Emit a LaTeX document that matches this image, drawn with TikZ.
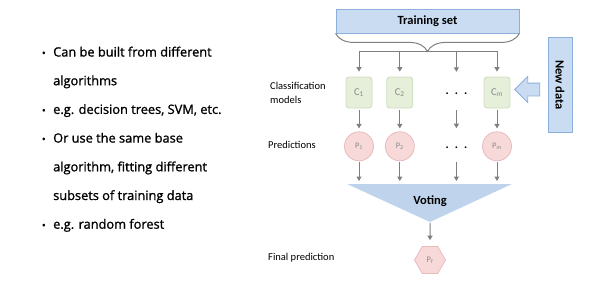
\documentclass[tikz,border=0pt]{standalone}
\usepackage{fontspec}
\setmainfont{Carlito}
\newfontfamily\listfont{Open Sans}[UprightFeatures={FakeBold=1.2}]
\usetikzlibrary{arrows.meta,positioning,shapes.geometric,shapes.arrows,decorations.pathreplacing}

\definecolor{setfill}{HTML}{C9DCF2}
\definecolor{setline}{HTML}{8DB0DA}
\definecolor{modelfill}{HTML}{E6EFDA}
\definecolor{modelline}{HTML}{CEDCBC}
\definecolor{predfill}{HTML}{F7D9D9}
\definecolor{predline}{HTML}{EABBBB}
\definecolor{votefill}{HTML}{BFD4EC}
\definecolor{flowgray}{HTML}{7F7F7F}
\definecolor{namegray}{HTML}{8A8A8A}

\newcommand{\threedots}{\raisebox{-5pt}{.\hspace{6pt}.\hspace{6pt}.}}
\newcommand{\bul}{\llap{{\fontsize{10}{10}\selectfont\textbullet}\hspace{7.5pt}}}

\begin{document}
\begin{tikzpicture}[x=1pt, y=-1pt,
  node distance=23pt and 14pt,
  setbox/.style={draw=setline, fill=setfill, line width=0.8pt, minimum width=183pt, minimum height=24pt, font=\bfseries\fontsize{12.5}{14}\selectfont},
  databox/.style={draw=setline, fill=setfill, line width=0.8pt, minimum width=95pt, minimum height=24pt, inner sep=0pt, rotate=-90, font=\bfseries\fontsize{12.5}{14}\selectfont},
  feed/.style={single arrow, draw=setline, fill=setfill, line width=0.8pt, shape border rotate=180, minimum height=25pt, inner xsep=0pt, inner ysep=6pt, single arrow head extend=6.5pt},
  model/.style={draw=modelline, fill=modelfill, line width=0.8pt, rounded corners=3pt, minimum width=26pt, minimum height=31pt, inner sep=0pt, text=namegray, font=\fontsize{10.5}{10}\selectfont},
  pred/.style={circle, draw=predline, fill=predfill, line width=0.8pt, minimum size=29pt, inner sep=0pt, text=namegray, font=\fontsize{8.5}{8}\selectfont},
  final/.style={regular polygon, regular polygon sides=6, draw=predline, fill=predfill, line width=0.8pt, minimum size=31pt, inner sep=0pt, text=namegray, font=\fontsize{8.5}{8}\selectfont},
  gap/.style={minimum width=26pt, minimum height=29pt, inner sep=0pt, font=\bfseries\fontsize{12}{12}\selectfont},
  rowlabel/.style={anchor=west, align=left, inner sep=0pt, font=\fontsize{10.5}{14}\selectfont},
  arrow/.style={-{Triangle[length=4.5pt, width=5pt]}, draw=flowgray, line width=1pt},
  bus/.style={draw=flowgray, line width=1pt},
  listline/.style={anchor=base west, inner sep=0pt, font=\listfont\fontsize{12.8}{14}\selectfont}
]
\useasboundingbox (0,0) rectangle (597,290);

% bullet list
\foreach \txt [count=\i from 0] in {{\bul Can be built from different}, {algorithms}, {\bul e.g. decision trees, SVM, etc.}, {\bul Or use the same base}, {algorithm, fitting different}, {subsets of training data}, {\bul e.g. random forest}}
  \node[listline] (line\i) at (53, 56.5+28.7*\i) {\txt};

% training set and classifiers
\node[setbox] (train) at (427.5,21) {Training set};
\node[model] (c1) at (359,92.5) {C\textsubscript{1}};
\node[model, right=of c1] (c2) {C\textsubscript{2}};
\node[gap, minimum height=31pt, right=30pt of c2] (cdots) {\threedots};
\node[model, right=of cdots] (cm) {C\textsubscript{\itshape m}};

\node[pred, below=of c1] (p1) {P\textsubscript{1}};
\node[pred, below=of c2] (p2) {P\textsubscript{2}};
\node[gap, below=of cdots] (pdots) {\threedots};
\node[pred, below=of cm] (pm) {P\textsubscript{\itshape m}};

% new data
\node[databox] (newdata) at (560,85) {New data};
\node[feed] (feed) at (530.5,89.5) {};

% row labels
\node[rowlabel] (modelslabel) at (270,93) {Classification\\models};
\node[rowlabel] (predlabel) at (268,145) {Predictions};
\node[rowlabel] (finallabel) at (268,258) {Final prediction};

% split from training set
\draw[bus, decorate, decoration={brace, mirror, amplitude=18pt}] (train.south west) -- (train.south east);
\coordinate (split) at ([yshift=-18pt]train.south);
\draw[bus] (c1 |- split) -- (cm |- split);
\foreach \n in {c1,c2,cdots,cm}
  \draw[arrow, shorten >=5pt] (\n |- split) -- (\n.north);
\foreach \n in {1,2,dots,m}
  \draw[arrow, shorten <=2pt, shorten >=3pt] (c\n) -- (p\n);

% voting
\coordinate (votel) at (347,184);
\coordinate (voter) at (512,184);
\coordinate (apex) at (430,222);
\fill[votefill] (votel) -- (voter) -- (apex) -- cycle;
\node[font=\bfseries\fontsize{12.5}{14}\selectfont] (vote) at (430,201) {Voting};
\foreach \n in {1,2,dots,m}
  \draw[arrow, shorten <=1pt, shorten >=3pt] (p\n) -- (p\n |- votel);

\node[final] (pf) at (430,260) {P\textsubscript{f}};
\draw[arrow, shorten <=1pt, shorten >=6pt] (apex) -- (pf.north);
\end{tikzpicture}
\end{document}
